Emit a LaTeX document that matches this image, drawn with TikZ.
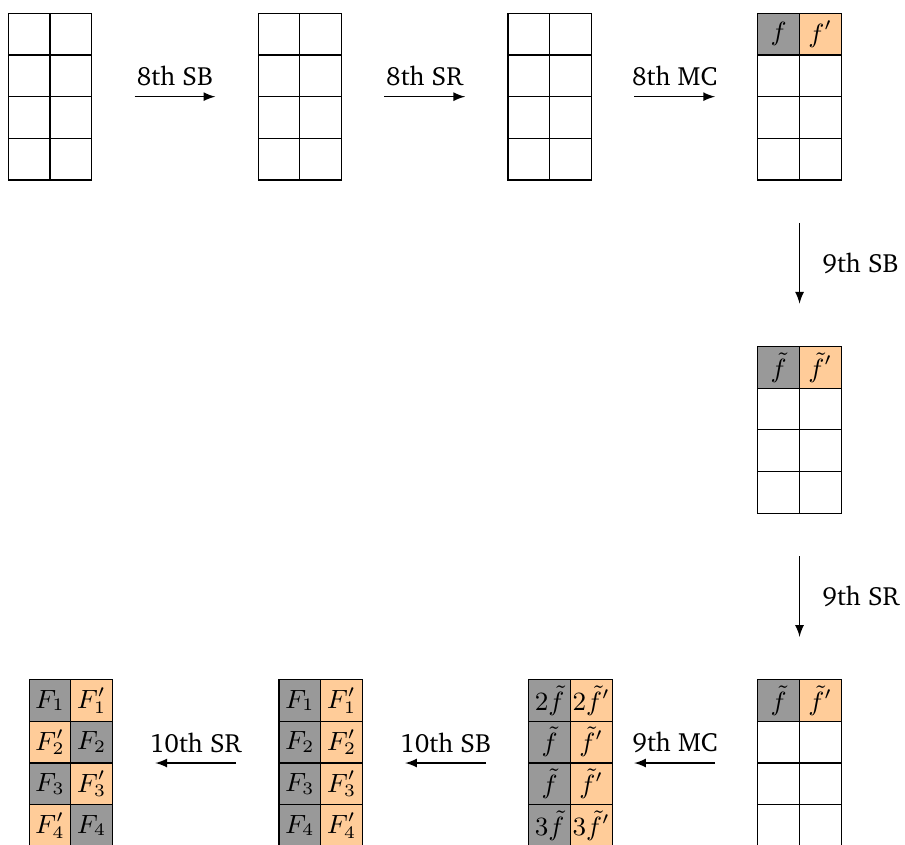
\documentclass[tikz,border=0pt]{standalone}
\usepackage[T1]{fontenc}
\usepackage{charter}
\usepackage{amsmath}
\usetikzlibrary{matrix,positioning,arrows}

\definecolor{darkcell}{gray}{0.6}
\definecolor{lightcell}{RGB}{255,204,153}

\begin{document}
\begin{tikzpicture}[
    node distance=1.97cm,
    state/.style={matrix of math nodes, nodes in empty cells, inner sep=0pt,
        column sep=-\pgflinewidth, row sep=-\pgflinewidth,
        nodes={draw, minimum width=0.5cm, minimum height=0.5cm, inner sep=0pt,
            anchor=center, font=\small}},
    dark/.style={fill=darkcell},
    light/.style={fill=lightcell},
    arrow/.style={-latex, shorten <=0.5cm, shorten >=0.5cm},
    lbl/.style={font=\small}
]
\useasboundingbox (0,0) rectangle (10.86,-10.14);

% top row
\matrix (m1) [state] at (0.6,-1.16) { & \\ & \\ & \\ & \\ };
\matrix (m2) [state, right=of m1] { & \\ & \\ & \\ & \\ };
\matrix (m3) [state, right=of m2] { & \\ & \\ & \\ & \\ };
\matrix (m4) [state, right=of m3] {
    |[dark]| f & |[light]| f' \\ & \\ & \\ & \\ };

% right column
\matrix (m5) [state, below=of m4] {
    |[dark]| \tilde{f} & |[light]| \tilde{f}' \\ & \\ & \\ & \\ };
\matrix (m6) [state, below=of m5] {
    |[dark]| \tilde{f} & |[light]| \tilde{f}' \\ & \\ & \\ & \\ };

% bottom row
\matrix (m7) [state, left=1.72cm of m6] {
    |[dark]| 2\tilde{f} & |[light]| 2\tilde{f}' \\
    |[dark]| \tilde{f} & |[light]| \tilde{f}' \\
    |[dark]| \tilde{f} & |[light]| \tilde{f}' \\
    |[dark]| 3\tilde{f} & |[light]| 3\tilde{f}' \\ };
\matrix (m8) [state, left=of m7] {
    |[dark]| F_1 & |[light]| F_1' \\
    |[dark]| F_2 & |[light]| F_2' \\
    |[dark]| F_3 & |[light]| F_3' \\
    |[dark]| F_4 & |[light]| F_4' \\ };
\matrix (m9) [state, left=of m8] {
    |[dark]| F_1 & |[light]| F_1' \\
    |[light]| F_2' & |[dark]| F_2 \\
    |[dark]| F_3 & |[light]| F_3' \\
    |[light]| F_4' & |[dark]| F_4 \\ };

\draw[arrow] (m1) -- node[lbl, above] {8th SB} (m2);
\draw[arrow] (m2) -- node[lbl, above] {8th SR} (m3);
\draw[arrow] (m3) -- node[lbl, above] {8th MC} (m4);
\draw[arrow] (m4) -- node[lbl, right=0.15cm] {9th SB} (m5);
\draw[arrow] (m5) -- node[lbl, right=0.15cm] {9th SR} (m6);
\draw[arrow, shorten >=0.25cm] (m6) -- node[lbl, above, pos=0.57] {9th MC} (m7);
\draw[arrow] (m7) -- node[lbl, above] {10th SB} (m8);
\draw[arrow] (m8) -- node[lbl, above] {10th SR} (m9);
\end{tikzpicture}
\end{document}
